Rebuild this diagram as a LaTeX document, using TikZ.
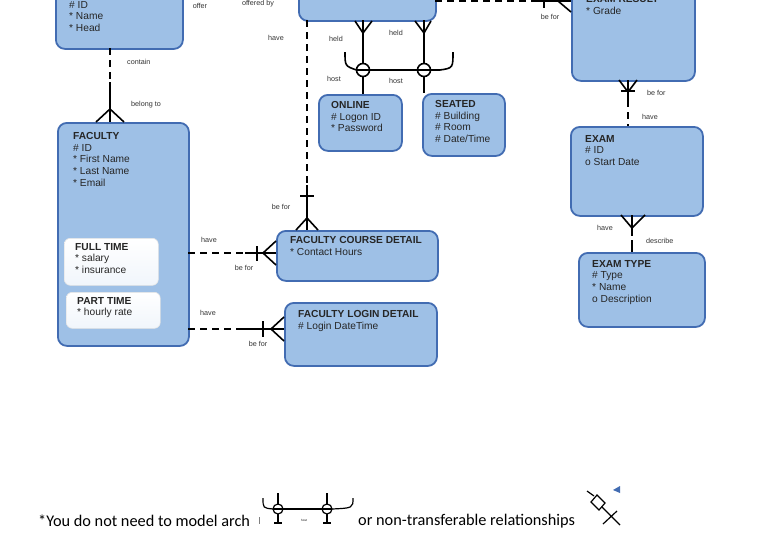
\documentclass[tikz,border=0pt]{standalone}
\usepackage{fontspec}
\setmainfont{Liberation Sans}
\newfontfamily\calib{Carlito}
\usetikzlibrary{calc}
\definecolor{efill}{RGB}{158,192,230}
\definecolor{edraw}{RGB}{66,108,178}
\begin{document}
\begin{tikzpicture}[x=1pt,y=-1pt,
 ent/.style={draw=edraw,line width=1.8pt,fill=efill,rounded corners=9pt,anchor=north west,inner sep=0pt},
 sub/.style={draw=white!80!gray,line width=0.6pt,top color=white,bottom color=white!85!efill,rounded corners=6pt,anchor=north west,inner sep=0pt},
 txt/.style={anchor=north west,align=left,inner sep=0pt,font=\fontsize{10.2}{11.7}\selectfont,text=black!85},
 lbl/.style={inner sep=0pt,font=\fontsize{7.2}{8}\selectfont,text=black!80},
 rel/.style={line width=1.6pt,black},
 dsh/.style={line width=1.6pt,black,dash pattern=on 7pt off 5pt}]
\useasboundingbox (0,0) rectangle (768,547);
\fill[white] (0,0) rectangle (768,547);
% entities
\node[ent,minimum width=127pt,minimum height=70pt] (dept) at (55,-22) {};
\node[txt] (deptt) at (69,1) {\# ID\\ * Name\\ * Head};
\node[ent,minimum width=137pt,minimum height=42pt] (off) at (298,-22) {};
\node[ent,minimum width=123pt,minimum height=102pt] (res) at (571,-22) {};
\node[txt] (rest) at (586,-5) {\textbf{EXAM RESULT}\\ * Grade};
\node[ent,minimum width=131pt,minimum height=223pt] (fac) at (57,122) {};
\node[txt] (fact) at (73,132) {\textbf{FACULTY}\\ \# ID\\ * First Name\\ * Last Name\\ * Email};
\node[sub,minimum width=94pt,minimum height=47pt] (ft) at (64,238) {};
\node[txt] (ftt) at (75,243) {\textbf{FULL TIME}\\ * salary\\ * insurance};
\node[sub,minimum width=94pt,minimum height=36pt] (pt) at (66,292) {};
\node[txt] (ptt) at (77,297) {\textbf{PART TIME}\\ * hourly rate};
\node[ent,minimum width=83pt,minimum height=56pt] (onl) at (318,94) {};
\node[txt] (onlt) at (331,101) {\textbf{ONLINE}\\ \# Logon ID\\ * Password};
\node[ent,minimum width=82pt,minimum height=62pt] (sea) at (422,93) {};
\node[txt] (seat) at (435,100) {\textbf{SEATED}\\ \# Building\\ \# Room\\ \# Date/Time};
\node[ent,minimum width=161pt,minimum height=50pt] (fcd) at (276,230) {};
\node[txt] (fcdt) at (290,236) {\textbf{FACULTY COURSE DETAIL}\\ * Contact Hours};
\node[ent,minimum width=152pt,minimum height=63pt] (fld) at (284,302) {};
\node[txt] (fldt) at (298,310) {\textbf{FACULTY LOGIN DETAIL}\\ \# Login DateTime};
\node[ent,minimum width=132pt,minimum height=89pt] (exam) at (570,126) {};
\node[txt] (examt) at (585,135) {\textbf{EXAM}\\ \# ID\\ o Start Date};
\node[ent,minimum width=126pt,minimum height=74pt] (et) at (578,252) {};
\node[txt] (ett) at (592,260) {\textbf{EXAM TYPE}\\ \# Type\\ * Name\\ o Description};
% dept - faculty
\coordinate (a1) at (110,82);
\draw[dsh] (110,48) -- (a1);
\draw[rel] (a1) -- (110,122);
\draw[rel] (96,122) -- (110,109) -- (124,122);
\node[lbl,anchor=west] (l1) at (127,62) {contain};
\node[lbl,anchor=west] (l2) at (131,105) {belong to};
\node[lbl] (l3) at (200,6) {offer};
\node[lbl] (l4) at (258,4) {offered by};
% offering - fcd
\coordinate (a2) at (307,185);
\draw[dsh] (307,20) -- (a2);
\draw[rel] (a2) -- (307,230);
\draw[rel] (300,196) -- (314,196);
\draw[rel] (296,230) -- (307,218) -- (318,230);
\node[lbl] (l5) at (276,38) {have};
\node[lbl] (l6) at (281,207) {be for};
% arch
\draw[rel] (363,20) -- (363,94);
\draw[rel] (424,20) -- (424,93);
\draw[rel] (355,21) -- (363,33) -- (372,21);
\draw[rel] (415,21) -- (424,33) -- (431,21);
\draw[rel,fill=white] (363,70) circle (6.5);
\draw[rel,fill=white] (424,70) circle (6.5);
\draw[rel] (356.5,70) -- (417.5,70);
\draw[rel] (345,52) .. controls (345,66) .. (356.5,70);
\draw[rel] (430.5,70) -- (440,70) .. controls (453,68) .. (453,52);
\draw[rel] (357,70) -- (369,70);
\draw[rel] (418,70) -- (430,70);
\node[lbl] (l7) at (336,39) {held};
\node[lbl] (l8) at (396,33) {held};
\node[lbl] (l9) at (334,79) {host};
\node[lbl] (l10) at (396,81) {host};
% offering - exam result
\coordinate (a3) at (536,1);
\draw[dsh] (435,1) -- (a3);
\draw[rel] (a3) -- (571,1);
\draw[rel] (544,-6) -- (544,8);
\draw[rel] (571,-10) -- (558,1) -- (571,12);
\node[lbl] (l11) at (550,17) {be for};
% result - exam
\coordinate (a4) at (628,100);
\draw[rel] (628,80) -- (a4);
\draw[dsh] (a4) -- (628,126);
\draw[rel] (619,80) -- (628,92) -- (637,80);
\draw[rel] (621,91) -- (635,91);
\node[lbl,anchor=west] (l12) at (647,93) {be for};
\node[lbl,anchor=west] (l13) at (642,117) {have};
% exam - exam type
\coordinate (a5) at (632,240);
\draw[rel] (632,215) -- (632,229);
\draw[dsh] (632,229) -- (a5);
\draw[rel] (a5) -- (632,252);
\draw[rel] (621,215) -- (632,228) -- (645,215);
\node[lbl] (l14) at (605,228) {have};
\node[lbl,anchor=west] (l15) at (646,241) {describe};
% faculty - fcd
\coordinate (a6) at (245,253);
\draw[dsh] (188,253) -- (a6);
\draw[rel] (a6) -- (276,253);
\draw[rel] (257,246) -- (257,261);
\draw[rel] (276,241) -- (263,253) -- (276,265);
\node[lbl] (l16) at (209,240) {have};
\node[lbl] (l17) at (244,268) {be for};
% faculty - fld
\coordinate (a7) at (240,329);
\draw[dsh] (188,329) -- (a7);
\draw[rel] (a7) -- (284,329);
\draw[rel] (263,321) -- (263,337);
\draw[rel] (284,317) -- (271,329) -- (284,341);
\node[lbl] (l18) at (208,313) {have};
\node[lbl] (l19) at (258,344) {be for};
% bottom note
\node[anchor=west,inner sep=0pt,font=\calib\fontsize{16.3}{18}\selectfont] (n1) at (38,521) {*You do not need to model arch};
\node[anchor=west,inner sep=0pt,font=\calib\fontsize{16.3}{18}\selectfont] (n2) at (358,521) {or non-transferable relationships};
\draw[line width=0.4pt,gray] (259,517) -- (259,524);
\draw[line width=1.2pt] (278,493) -- (278,523) (327,493) -- (327,523);
\draw[line width=1.2pt] (274,523) -- (282,523) (323,523) -- (331,523);
\draw[line width=1.2pt,fill=white] (278,509) circle (5) (327,509) circle (5);
\draw[line width=1.2pt] (273,509) -- (283,509) (322,509) -- (332,509);
\draw[line width=1.2pt] (283,509) -- (322,509);
\draw[line width=1.2pt] (263,498) .. controls (263,508) .. (273,509);
\draw[line width=1.2pt] (332,509) .. controls (353,508) .. (353,498);
\node[inner sep=0pt,font=\fontsize{3}{3}\selectfont] (n3) at (304,520) {host};
\draw[line width=1.2pt] (587,491) -- (594,496);
\draw[line width=1.2pt,fill=white] (597,495) -- (605,503) -- (599,510) -- (591,502) -- cycle;
\draw[line width=1.2pt] (602,507) -- (620,525) (603,524) -- (617,511);
\fill[edraw] (613,490) -- (620,486) -- (620,493) -- cycle;
\end{tikzpicture}
\end{document}
